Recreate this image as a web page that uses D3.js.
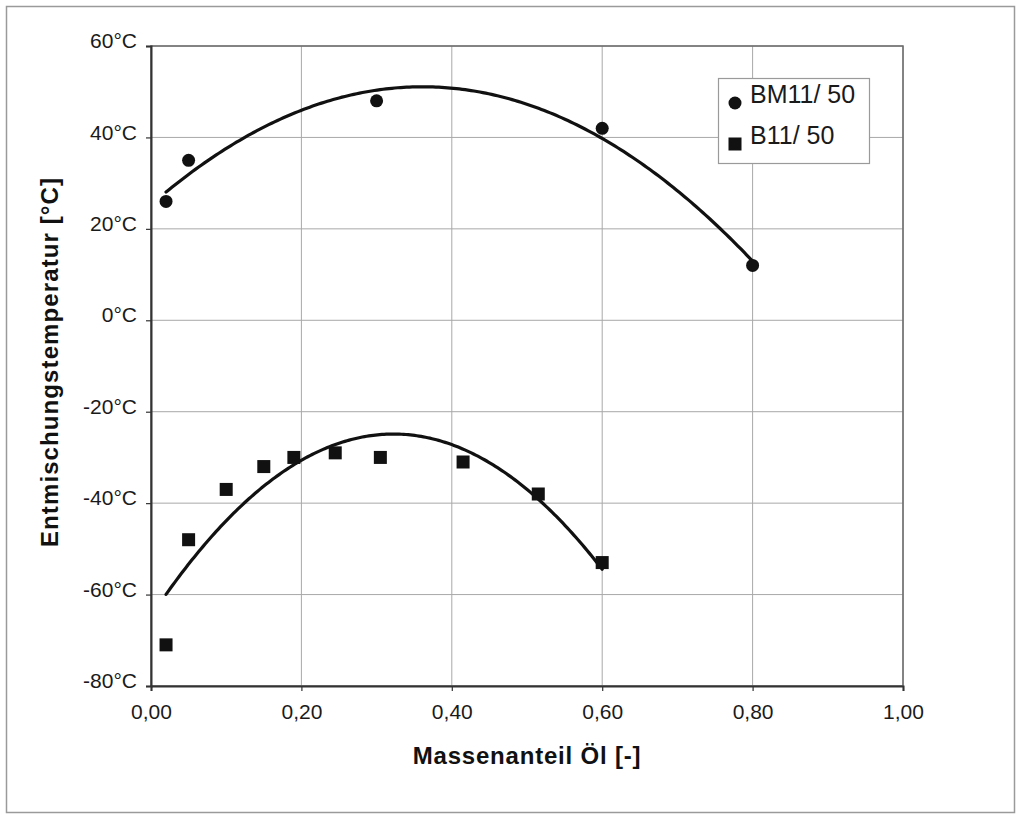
<!DOCTYPE html>
<html>
<head>
<meta charset="utf-8">
<script src="https://cdn.jsdelivr.net/npm/d3@7"></script>
<style>
  html, body { margin: 0; padding: 0; background: #fff; }
  svg { display: block; font-family: "Liberation Sans", Arial, sans-serif; }
</style>
</head>
<body>
<svg id="chart" width="1018" height="816"></svg>
<script>
// Mass fraction of oil and measured demixing temperature for each mixture
const seriesNames = ["BM11/ 50", "B11/ 50"];
const oilFractionBM = [0.02, 0.05, 0.30, 0.60, 0.80];
const temperatureBM = [26, 35, 48, 42, 12];
const oilFractionB = [0.02, 0.05, 0.10, 0.15, 0.19, 0.245, 0.305, 0.415, 0.515, 0.60];
const temperatureB = [-71, -48, -37, -32, -30, -29, -30, -31, -38, -53];

// Axis ticks
const xTicks = [0.00, 0.20, 0.40, 0.60, 0.80, 1.00];
const yTicks = [60, 40, 20, 0, -20, -40, -60, -80];
const xTitle = "Massenanteil Öl [-]";
const yTitle = "Entmischungstemperatur [°C]";

const svg = d3.select("#chart");
const plotLeft = 151, plotRight = 903, plotTop = 46, plotBottom = 686;

const x = d3.scaleLinear().domain([0, 1]).range([plotLeft, plotRight]);
const y = d3.scaleLinear().domain([-80, 60]).range([plotBottom, plotTop]);

// Outer frame
svg.append("rect")
  .attr("x", 6.5).attr("y", 6.5).attr("width", 1008).attr("height", 806)
  .attr("fill", "#fff").attr("stroke", "#9a9a9a").attr("stroke-width", 1.5);

// Gridlines
const grid = svg.append("g");
grid.selectAll("line.h").data(yTicks).join("line").attr("class", "h")
  .attr("x1", plotLeft).attr("x2", plotRight)
  .attr("y1", d => y(d)).attr("y2", d => y(d))
  .attr("stroke", "#a8a8a8").attr("stroke-width", 1);
grid.selectAll("line.v").data(xTicks).join("line").attr("class", "v")
  .attr("y1", plotTop).attr("y2", plotBottom)
  .attr("x1", d => x(d)).attr("x2", d => x(d))
  .attr("stroke", "#a8a8a8").attr("stroke-width", 1);

// Plot area border
svg.append("rect")
  .attr("x", plotLeft).attr("y", plotTop)
  .attr("width", plotRight - plotLeft).attr("height", plotBottom - plotTop)
  .attr("fill", "none").attr("stroke", "#6a6a6a").attr("stroke-width", 1.5);

// Axes
const fmtX = d => d.toFixed(2).replace(".", ",");
const fmtY = d => d + "°C";

const xAxis = svg.append("g")
  .attr("transform", `translate(0,${plotBottom})`)
  .call(d3.axisBottom(x).tickValues(xTicks).tickFormat(fmtX).tickSize(5).tickPadding(13));
const yAxis = svg.append("g")
  .attr("transform", `translate(${plotLeft},0)`)
  .call(d3.axisLeft(y).tickValues(yTicks).tickFormat(fmtY).tickSize(5).tickPadding(9));

[xAxis, yAxis].forEach(g => {
  g.select(".domain").attr("stroke", "#333").attr("stroke-width", 2);
  g.selectAll(".tick line").attr("stroke", "#333").attr("stroke-width", 1.2);
  g.selectAll(".tick text")
    .attr("fill", "#1a1a1a")
    .style("font-size", "21px")
    .style("font-family", "'Liberation Sans', Arial, sans-serif");
});
xAxis.selectAll(".tick text").attr("dy", "0.71em");
yAxis.selectAll(".tick text").attr("dy", "0.08em");

// Axis titles
svg.append("text")
  .attr("x", (plotLeft + plotRight) / 2).attr("y", 764)
  .attr("text-anchor", "middle")
  .style("font-size", "24px").style("font-weight", "bold")
  .style("letter-spacing", "0.8px")
  .attr("fill", "#111")
  .text(xTitle);

svg.append("text")
  .attr("transform", "translate(58,362) rotate(-90)")
  .attr("text-anchor", "middle")
  .style("font-size", "24px").style("font-weight", "bold")
  .style("letter-spacing", "1.1px")
  .attr("fill", "#111")
  .text(yTitle);

// Second-order least squares trend through a series
function quadFit(xs, ys) {
  let n = xs.length, s1 = 0, s2 = 0, s3 = 0, s4 = 0, t0 = 0, t1 = 0, t2 = 0;
  for (let i = 0; i < n; i++) {
    const a = xs[i], b = ys[i];
    s1 += a; s2 += a * a; s3 += a * a * a; s4 += a * a * a * a;
    t0 += b; t1 += a * b; t2 += a * a * b;
  }
  const M = [[n, s1, s2, t0], [s1, s2, s3, t1], [s2, s3, s4, t2]];
  for (let c = 0; c < 3; c++) {
    for (let r = c + 1; r < 3; r++) {
      const f = M[r][c] / M[c][c];
      for (let k = c; k < 4; k++) M[r][k] -= f * M[c][k];
    }
  }
  const coef = [0, 0, 0];
  for (let r = 2; r >= 0; r--) {
    let s = M[r][3];
    for (let k = r + 1; k < 3; k++) s -= M[r][k] * coef[k];
    coef[r] = s / M[r][r];
  }
  return v => coef[0] + coef[1] * v + coef[2] * v * v;
}

const line = d3.line().x(d => x(d[0])).y(d => y(d[1]));
function drawTrend(xs, ys) {
  const f = quadFit(xs, ys);
  const x0 = d3.min(xs), x1 = d3.max(xs);
  const pts = d3.range(0, 201).map(i => {
    const v = x0 + (x1 - x0) * i / 200;
    return [v, f(v)];
  });
  svg.append("path").datum(pts)
    .attr("d", line)
    .attr("fill", "none").attr("stroke", "#111")
    .attr("stroke-width", 3.2).attr("stroke-linejoin", "round").attr("stroke-linecap", "round");
}
drawTrend(oilFractionBM, temperatureBM);
drawTrend(oilFractionB, temperatureB);

// Markers
const dataBM = oilFractionBM.map((v, i) => [v, temperatureBM[i]]);
const dataB = oilFractionB.map((v, i) => [v, temperatureB[i]]);

svg.append("g").selectAll("circle").data(dataBM).join("circle")
  .attr("cx", d => x(d[0])).attr("cy", d => y(d[1])).attr("r", 6.5)
  .attr("fill", "#111");

const sq = 13;
svg.append("g").selectAll("rect").data(dataB).join("rect")
  .attr("x", d => x(d[0]) - sq / 2).attr("y", d => y(d[1]) - sq / 2)
  .attr("width", sq).attr("height", sq)
  .attr("fill", "#111");

// Legend
const legend = svg.append("g");
legend.append("rect")
  .attr("x", 718.5).attr("y", 78.5).attr("width", 151).attr("height", 85)
  .attr("fill", "#fff").attr("stroke", "#9a9a9a").attr("stroke-width", 1.2);
legend.append("circle").attr("cx", 735).attr("cy", 103).attr("r", 6.5).attr("fill", "#111");
legend.append("rect").attr("x", 735 - sq / 2).attr("y", 144 - sq / 2)
  .attr("width", sq).attr("height", sq).attr("fill", "#111");
legend.selectAll("text").data(seriesNames).join("text")
  .attr("x", 750).attr("y", (d, i) => i === 0 ? 103 : 143.5)
  .style("font-size", "25px")
  .attr("fill", "#1a1a1a")
  .text(d => d);
</script>
</body>
</html>
